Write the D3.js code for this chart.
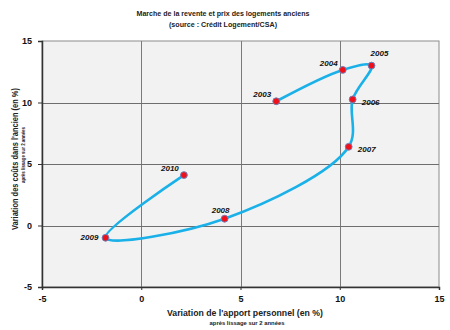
<!DOCTYPE html>
<html>
<head>
<meta charset="utf-8">
<script src="https://cdn.jsdelivr.net/npm/d3@7"></script>
<style>
  html, body { margin: 0; padding: 0; background: #ffffff; }
  svg { display: block; font-family: Arial, "Liberation Sans", sans-serif; }
</style>
</head>
<body>
<svg id="chart" width="450" height="330"></svg>
<script>
// Années et trajectoire (apport personnel, coûts dans l'ancien), en %
const years = ["2003", "2004", "2005", "2006", "2007", "2008", "2009", "2010"];
const apportValues = [6.8, 10.15, 11.6, 10.65, 10.45, 4.2, -1.8, 2.15];
const coutsValues = [10.1, 12.65, 13.0, 10.25, 6.4, 0.55, -1.0, 4.1];
const xTicks = [-5, 0, 5, 10, 15];
const yTicks = [-5, 0, 5, 10, 15];

// Placement of each year label around its point
const labelPlacement = ["upleft", "upleft", "upright", "right", "right", "up", "left", "upleft"];

const svg = d3.select("#chart");
const plotLeft = 42, plotRight = 439, plotTop = 41, plotBottom = 287;

const x = d3.scaleLinear().domain([-5, 15]).range([plotLeft, plotRight]);
const y = d3.scaleLinear().domain([-5, 15]).range([plotBottom, plotTop]);

// Plot area
svg.append("rect")
  .attr("x", plotLeft).attr("y", plotTop)
  .attr("width", plotRight - plotLeft).attr("height", plotBottom - plotTop)
  .attr("fill", "#f2f2f2")
  .attr("stroke", "#8c8c8c").attr("stroke-width", 1);

// Grid
svg.append("g").selectAll("line")
  .data(xTicks.slice(1, -1)).join("line")
  .attr("x1", d => Math.round(x(d)) + 0.5).attr("x2", d => Math.round(x(d)) + 0.5)
  .attr("y1", plotTop).attr("y2", plotBottom)
  .attr("stroke", "#7a7a7a").attr("stroke-width", 1);
svg.append("g").selectAll("line")
  .data(yTicks.slice(1, -1)).join("line")
  .attr("y1", d => Math.round(y(d)) + 0.5).attr("y2", d => Math.round(y(d)) + 0.5)
  .attr("x1", plotLeft).attr("x2", plotRight)
  .attr("stroke", "#6e6e6e").attr("stroke-width", 1);

// Axes (plain hyphen for negative values)
const fmt = d => String(d);
const xAxis = svg.append("g")
  .attr("transform", `translate(0,${plotBottom})`)
  .call(d3.axisBottom(x).tickValues(xTicks).tickSize(3).tickPadding(6).tickFormat(fmt));
const yAxis = svg.append("g")
  .attr("transform", `translate(${plotLeft},0)`)
  .call(d3.axisLeft(y).tickValues(yTicks).tickSize(4).tickPadding(6).tickFormat(fmt));

[xAxis, yAxis].forEach(g => {
  g.select(".domain").attr("stroke", "#333").attr("stroke-width", 1.5);
  g.selectAll(".tick line").attr("stroke", "#333").attr("stroke-width", 1);
  g.selectAll(".tick text")
    .attr("font-size", 9).attr("font-weight", "bold")
    .attr("fill", "#111")
    .attr("font-family", "Arial, 'Liberation Sans', sans-serif");
});

// Trajectory
const pts = years.map((yr, i) => ({ yr, ax: apportValues[i], cv: coutsValues[i], pos: labelPlacement[i] }));

const line = d3.line()
  .x(d => x(d.ax)).y(d => y(d.cv))
  .curve(d3.curveCatmullRom.alpha(0.5));

svg.append("path")
  .datum(pts)
  .attr("d", line)
  .attr("fill", "none")
  .attr("stroke", "#1ab0e8")
  .attr("stroke-width", 2.6)
  .attr("stroke-linejoin", "round");

svg.append("g").selectAll("circle")
  .data(pts).join("circle")
  .attr("cx", d => x(d.ax)).attr("cy", d => y(d.cv))
  .attr("r", 3.4)
  .attr("fill", "#f0101a")
  .attr("stroke", "#6f7fb8").attr("stroke-width", 1);

const offsets = {
  upleft: [-14, -6], upright: [8, -12], right: [18, 3], up: [-4, -8], left: [-16, 0]
};
svg.append("g").selectAll("text")
  .data(pts).join("text")
  .attr("x", d => x(d.ax) + offsets[d.pos][0])
  .attr("y", d => y(d.cv) + offsets[d.pos][1])
  .attr("text-anchor", "middle")
  .attr("dominant-baseline", "middle")
  .attr("font-size", 8)
  .attr("font-weight", "bold")
  .attr("font-style", "italic")
  .attr("fill", "#111")
  .text(d => d.yr);

// Titles
const title = svg.append("g").attr("font-weight", "bold").attr("fill", "#222").attr("text-anchor", "middle");
title.append("text").attr("x", 223).attr("y", 16).attr("font-size", 8)
  .attr("textLength", 173).attr("lengthAdjust", "spacingAndGlyphs")
  .text("Marche de la revente et prix des logements anciens");
title.append("text").attr("x", 223).attr("y", 27).attr("font-size", 8)
  .attr("textLength", 108).attr("lengthAdjust", "spacingAndGlyphs")
  .text("(source : Crédit Logement/CSA)");

svg.append("text")
  .attr("x", 245).attr("y", 316)
  .attr("text-anchor", "middle").attr("font-size", 8.5).attr("font-weight", "bold").attr("fill", "#222")
  .attr("textLength", 156).attr("lengthAdjust", "spacingAndGlyphs")
  .text("Variation de l'apport personnel (en %)");
svg.append("text")
  .attr("x", 247).attr("y", 325)
  .attr("text-anchor", "middle").attr("font-size", 5.5).attr("font-weight", "bold").attr("fill", "#222")
  .attr("textLength", 75).attr("lengthAdjust", "spacingAndGlyphs")
  .text("après lissage sur 2 années");

svg.append("text")
  .attr("transform", "translate(18,159) rotate(-90)")
  .attr("text-anchor", "middle").attr("font-size", 8.5).attr("font-weight", "bold").attr("fill", "#222")
  .attr("textLength", 142).attr("lengthAdjust", "spacingAndGlyphs")
  .text("Variation des coûts dans l'ancien (en %)");
svg.append("text")
  .attr("transform", "translate(25,155) rotate(-90)")
  .attr("text-anchor", "middle").attr("font-size", 5.5).attr("font-weight", "bold").attr("fill", "#222")
  .attr("textLength", 56).attr("lengthAdjust", "spacingAndGlyphs")
  .text("après lissage sur 2 années");
</script>
</body>
</html>
